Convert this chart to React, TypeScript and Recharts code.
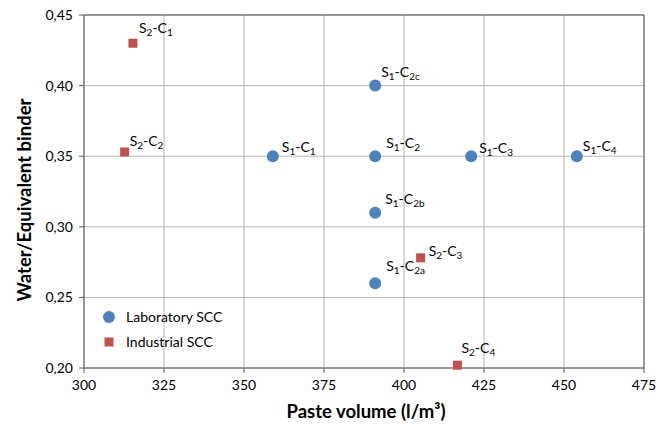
import React from 'react'
import { ScatterChart, Scatter, XAxis, YAxis, CartesianGrid, ReferenceLine } from 'recharts'

// data
const labNames = ['S1-C1', 'S1-C2c', 'S1-C2', 'S1-C3', 'S1-C4', 'S1-C2b', 'S1-C2a']
const labX = [359, 391, 391, 421, 454, 391, 391]
const labY = [0.35, 0.4, 0.35, 0.35, 0.35, 0.31, 0.26]

const indNames = ['S2-C1', 'S2-C2', 'S2-C3', 'S2-C4']
const indX = [315.3, 312.7, 405.2, 416.7]
const indY = [0.43, 0.353, 0.278, 0.202]

const xTicks = [300, 325, 350, 375, 400, 425, 450, 475]
const yTicks = [0.2, 0.25, 0.3, 0.35, 0.4, 0.45]

const BLUE = '#4f81bd'
const RED = '#c0504d'
const FONT = 'Lato, "Open Sans", sans-serif'

// where each point's label sits relative to the marker
const labelOffset: Record<string, [number, number]> = {
  'S1-C1': [9, -4],
  'S1-C2c': [6, -9],
  'S1-C2': [11, -8],
  'S1-C3': [8, -3],
  'S1-C4': [6, -5],
  'S1-C2b': [10, -9],
  'S1-C2a': [11, -12],
  'S2-C1': [6, -10],
  'S2-C2': [5, -6],
  'S2-C3': [8, -2],
  'S2-C4': [4, -12],
}

const labData = labX.map((x, i) => ({ x, y: labY[i], name: labNames[i] }))
const indData = indX.map((x, i) => ({ x, y: indY[i], name: indNames[i] }))

function PointLabel({ x, y, name }: { x: number; y: number; name: string }) {
  const m = /^S(\d)-C(.+)$/.exec(name)
  if (!m) return null
  const [dx, dy] = labelOffset[name] || [6, -8]
  return (
    <text x={x + dx} y={y + dy} fontSize={14} fontFamily={FONT} fill="#000">
      S
      <tspan dy={3} fontSize={10}>{m[1]}</tspan>
      <tspan dy={-3}>-C</tspan>
      <tspan dy={3} fontSize={10}>{m[2]}</tspan>
    </text>
  )
}

const circleShape = (props: any) => (
  <g>
    <circle cx={props.cx} cy={props.cy} r={6} fill={BLUE} />
    <PointLabel x={props.cx} y={props.cy} name={props.payload.name} />
  </g>
)

const squareShape = (props: any) => (
  <g>
    <rect x={props.cx - 4.5} y={props.cy - 4.5} width={9} height={9} fill={RED} />
    <PointLabel x={props.cx} y={props.cy} name={props.payload.name} />
  </g>
)

const fmtY = (v: number) => v.toFixed(2).replace('.', ',')

const titleStyle = { fontSize: 18.5, fontWeight: 700, fontFamily: FONT, fill: '#000' }

const xTitle = () => (
  <text x={366} y={418} textAnchor="middle" style={titleStyle}>Paste volume (l/m³)</text>
)
const yTitle = () => (
  <text x={0} y={0} transform="translate(31,200) rotate(-90)" textAnchor="middle" style={titleStyle}>
    Water/Equivalent binder
  </text>
)

// legend sits inside the plot, bottom-left
function LegendBox() {
  return (
    <svg width={130} height={50} style={{ position: 'absolute', left: 100, top: 306 }}>
      <circle cx={9} cy={11} r={6} fill={BLUE} />
      <text x={26} y={16} fontSize={14} fontFamily={FONT}>Laboratory SCC</text>
      <rect x={4.5} y={31.5} width={9} height={9} fill={RED} />
      <text x={26} y={41} fontSize={14} fontFamily={FONT}>Industrial SCC</text>
    </svg>
  )
}

export default function App() {
  return (
    <div style={{ position: 'absolute', left: 0, top: 0, width: 670, height: 424, background: '#fff' }}>
      <ScatterChart width={670} height={424} margin={{ top: 15, right: 26, bottom: 0, left: 0 }}>
        <CartesianGrid stroke="#b4b4b4" strokeWidth={1} />
        <XAxis
          type="number"
          dataKey="x"
          domain={[300, 475]}
          ticks={xTicks}
          height={56}
          tickSize={5}
          tickMargin={7}
          stroke="#595959"
          tick={{ fill: '#000', fontSize: 14, fontFamily: FONT }}
          label={{ content: xTitle }}
        />
        <YAxis
          type="number"
          dataKey="y"
          domain={[0.2, 0.45]}
          ticks={yTicks}
          width={84}
          tickSize={5}
          tickMargin={6}
          tickFormatter={fmtY}
          stroke="#595959"
          tick={{ fill: '#000', fontSize: 14, fontFamily: FONT }}
          label={{ content: yTitle }}
        />
        <ReferenceLine y={0.45} stroke="#595959" />
        <ReferenceLine x={475} stroke="#595959" />
        <Scatter name="Laboratory SCC" data={labData} fill={BLUE} shape={circleShape} isAnimationActive={false} />
        <Scatter name="Industrial SCC" data={indData} fill={RED} shape={squareShape} isAnimationActive={false} />
      </ScatterChart>
      <LegendBox />
    </div>
  )
}
